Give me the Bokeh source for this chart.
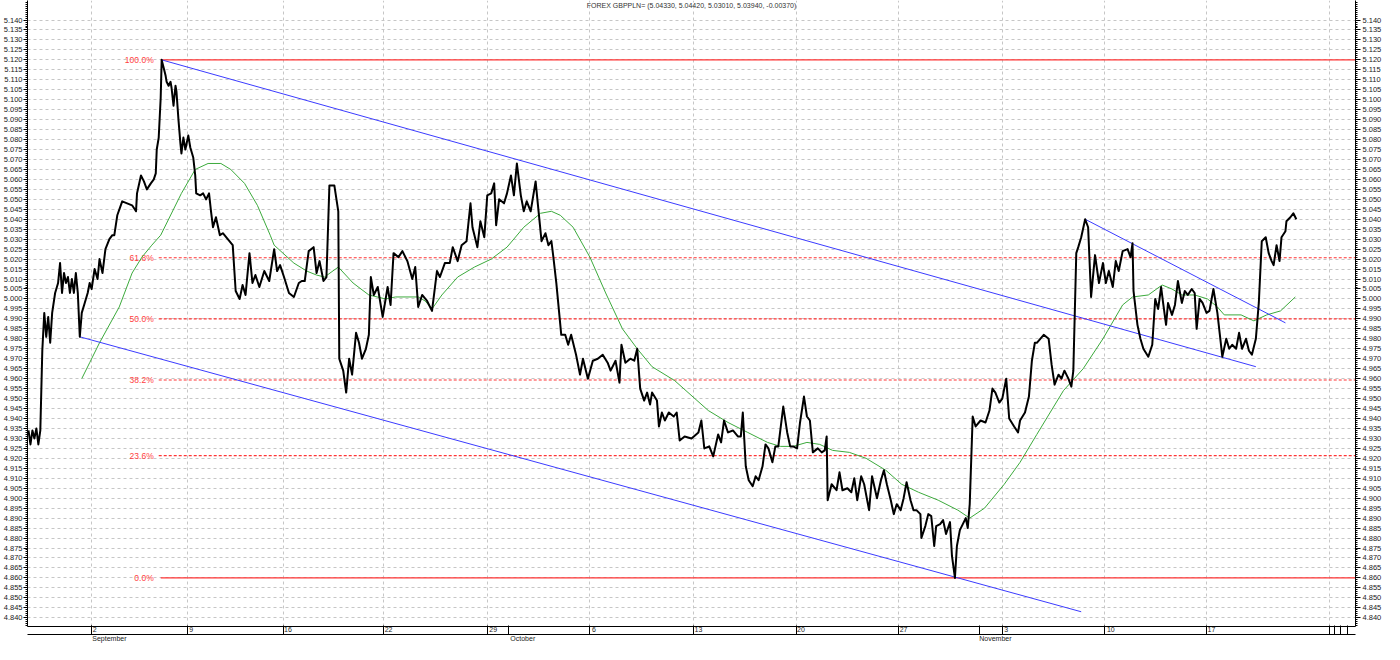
from bokeh.plotting import figure
from bokeh.models import (Range1d, LinearAxis, FixedTicker, Grid,
                          PrintfTickFormatter, Label)
from bokeh.core.properties import value
from bokeh.embed import file_html
from bokeh.resources import INLINE

FONT = "Liberation Sans"
TITLE = "FOREX GBPPLN= (5.04330, 5.04420, 5.03010, 5.03940, -0.00370)"

# ---- data: hourly bar index and GBPPLN close ----
price_bar = [1, 3, 5, 7, 9, 11, 13, 15, 17, 19, 21, 23, 25, 28, 31, 33, 35, 37, 39, 41, 43, 45, 47, 49, 51, 53, 55, 58,
             61, 63, 65, 68, 71, 73, 76, 79, 83, 86, 88, 91, 96, 101, 106, 110, 111, 115, 118, 121, 125, 128, 130, 131,
             133, 135, 136, 138, 140, 141, 143, 145, 146, 148, 150, 151, 153, 155, 156, 158, 160, 163, 165, 168, 170,
             171, 175, 178, 181, 184, 186, 188, 191, 195, 198, 203, 208, 211, 215, 218, 221, 225, 228, 231, 235, 240,
             245, 250, 253, 256, 260, 265, 270, 275, 278, 281, 285, 290, 293, 296, 300, 303, 306, 311, 315, 316, 320,
             323, 326, 329, 333, 336, 339, 343, 346, 348, 351, 355, 360, 365, 368, 371, 376, 380, 385, 390, 393, 396,
             400, 405, 410, 415, 418, 423, 428, 431, 436, 440, 445, 449, 451, 456, 459, 463, 466, 470, 473, 475, 478,
             483, 486, 490, 493, 496, 500, 503, 506, 510, 515, 518, 521, 525, 528, 531, 533, 536, 541, 545, 548, 551,
             556, 560, 563, 568, 573, 578, 583, 588, 591, 596, 600, 602, 606, 611, 615, 618, 621, 625, 628, 631, 633,
             638, 640, 643, 646, 650, 655, 658, 661, 666, 673, 680, 683, 686, 691, 695, 700, 703, 706, 710, 715, 720,
             723, 725, 728, 731, 735, 738, 741, 745, 748, 751, 755, 758, 761, 766, 770, 773, 776, 780, 783, 787, 790,
             793, 796, 801, 805, 808, 810, 811, 815, 820, 823, 826, 831, 835, 838, 841, 845, 848, 853, 856, 861, 865,
             868, 871, 875, 878, 881, 885, 888, 891, 895, 898, 901, 905, 906, 910, 913, 916, 919, 921, 925, 928, 931,
             935, 937, 940, 942, 945, 948, 951, 953, 955, 958, 961, 966, 971, 975, 978, 981, 985, 988, 992, 995, 1000,
             1004, 1006, 1011, 1015, 1018, 1021, 1023, 1030, 1035, 1038, 1041, 1045, 1048, 1051, 1055, 1058, 1060,
             1063, 1065, 1068, 1072, 1075, 1078, 1082, 1086, 1090, 1093, 1096, 1100, 1103, 1106, 1110, 1115, 1118,
             1120, 1121, 1125, 1128, 1131, 1136, 1140, 1143, 1146, 1149, 1151, 1154, 1156, 1160, 1163, 1166, 1170,
             1173, 1176, 1180, 1183, 1185, 1188, 1191, 1195, 1198, 1202, 1206, 1209, 1211, 1215, 1218, 1221, 1225,
             1228, 1231, 1235, 1238, 1241, 1245, 1248, 1251, 1255, 1258, 1261, 1263, 1266, 1269, 1271, 1275, 1276,
             1280, 1283, 1286]
price = [4.934, 4.927, 4.934, 4.930, 4.935, 4.927, 4.934, 4.974, 4.993, 4.981, 4.991, 4.978, 4.993, 5.003, 5.008, 5.018,
         5.003, 5.013, 5.008, 5.011, 5.003, 5.010, 5.003, 5.013, 5.003, 4.981, 4.993, 4.998, 5.003, 5.008, 5.005, 5.015,
         5.010, 5.020, 5.013, 5.025, 5.030, 5.032, 5.032, 5.042, 5.049, 5.048, 5.047, 5.044, 5.053, 5.062, 5.059, 5.055,
         5.058, 5.060, 5.063, 5.075, 5.081, 5.101, 5.120, 5.116, 5.112, 5.109, 5.107, 5.109, 5.106, 5.097, 5.107, 5.104,
         5.090, 5.078, 5.073, 5.081, 5.075, 5.082, 5.076, 5.071, 5.062, 5.053, 5.052, 5.053, 5.050, 5.053, 5.044, 5.036,
         5.041, 5.032, 5.033, 5.030, 5.027, 5.004, 5.000, 5.007, 5.002, 5.023, 5.008, 5.012, 5.006, 5.014, 5.009, 5.025,
         5.014, 5.017, 5.011, 5.003, 5.001, 5.008, 5.009, 5.009, 5.024, 5.026, 5.013, 5.019, 5.009, 5.011, 5.057, 5.057,
         5.044, 4.970, 4.964, 4.953, 4.970, 4.962, 4.983, 4.978, 4.970, 4.975, 4.982, 5.011, 5.002, 5.006, 4.991, 5.006,
         4.997, 5.023, 5.021, 5.024, 5.019, 5.010, 5.016, 4.996, 5.002, 4.999, 4.994, 5.014, 5.011, 5.018, 5.018, 5.026,
         5.019, 5.027, 5.029, 5.048, 5.036, 5.026, 5.039, 5.031, 5.052, 5.053, 5.058, 5.037, 5.050, 5.048, 5.053, 5.062,
         5.052, 5.068, 5.052, 5.044, 5.049, 5.044, 5.059, 5.044, 5.029, 5.033, 5.027, 5.029, 5.021, 5.008, 4.982, 4.982,
         4.977, 4.982, 4.972, 4.962, 4.970, 4.960, 4.969, 4.970, 4.972, 4.968, 4.964, 4.969, 4.958, 4.977, 4.968, 4.970,
         4.969, 4.975, 4.955, 4.949, 4.953, 4.947, 4.953, 4.949, 4.936, 4.943, 4.939, 4.943, 4.941, 4.943, 4.929, 4.931,
         4.930, 4.933, 4.939, 4.925, 4.926, 4.921, 4.932, 4.928, 4.939, 4.933, 4.934, 4.931, 4.931, 4.943, 4.916, 4.909,
         4.906, 4.911, 4.909, 4.916, 4.927, 4.925, 4.918, 4.926, 4.926, 4.946, 4.933, 4.926, 4.926, 4.925, 4.938, 4.951,
         4.941, 4.939, 4.923, 4.925, 4.923, 4.924, 4.931, 4.899, 4.907, 4.904, 4.913, 4.904, 4.905, 4.903, 4.910, 4.899,
         4.911, 4.907, 4.894, 4.911, 4.900, 4.909, 4.914, 4.907, 4.899, 4.892, 4.897, 4.894, 4.900, 4.908, 4.899, 4.894,
         4.894, 4.892, 4.880, 4.886, 4.892, 4.891, 4.876, 4.886, 4.887, 4.889, 4.882, 4.888, 4.871, 4.860, 4.876, 4.884,
         4.887, 4.890, 4.885, 4.897, 4.941, 4.936, 4.939, 4.938, 4.944, 4.955, 4.953, 4.948, 4.950, 4.960, 4.940, 4.936,
         4.933, 4.939, 4.943, 4.951, 4.969, 4.978, 4.978, 4.982, 4.980, 4.967, 4.957, 4.962, 4.960, 4.964, 4.960, 4.956,
         4.964, 5.023, 5.026, 5.031, 5.040, 5.036, 5.001, 5.022, 5.008, 5.018, 5.008, 5.014, 5.006, 5.019, 5.014, 5.024,
         5.025, 5.021, 5.028, 5.004, 4.987, 4.980, 4.975, 4.971, 4.977, 5.000, 4.995, 5.006, 4.998, 4.987, 4.998, 4.992,
         4.997, 5.009, 4.998, 5.004, 5.002, 5.005, 5.003, 4.985, 5.000, 4.998, 4.993, 4.994, 5.005, 4.993, 4.980, 4.971,
         4.980, 4.975, 4.977, 4.975, 4.983, 4.975, 4.980, 4.974, 4.972, 4.980, 4.998, 5.029, 5.031, 5.023, 5.019, 5.017,
         5.027, 5.019, 5.031, 5.034, 5.039, 5.041, 5.043, 5.040]

# moving average (green)
ma_bar = [55, 63, 73, 93, 106, 116, 126, 135, 156, 170, 183, 196, 206, 220, 233, 246, 250, 270, 283, 293, 301, 315,
          330, 346, 363, 373, 396, 403, 410, 420, 436, 453, 470, 486, 503, 520, 531, 540, 553, 570, 586, 603, 618, 633,
          656, 690, 710, 730, 750, 763, 776, 790, 803, 816, 833, 850, 870, 886, 903, 923, 943, 955, 970, 990, 1006,
          1023, 1050, 1070, 1090, 1110, 1120, 1136, 1150, 1160, 1170, 1183, 1196, 1206, 1213, 1230, 1243, 1256, 1270,
          1285]
ma = [4.960, 4.968, 4.978, 4.996, 5.013, 5.021, 5.027, 5.032, 5.053, 5.065, 5.068, 5.068, 5.065, 5.058, 5.047, 5.032,
      5.027, 5.018, 5.014, 5.012, 5.011, 5.016, 5.008, 5.002, 5.000, 5.001, 5.001, 4.999, 4.995, 5.002, 5.011, 5.016,
      5.020, 5.026, 5.036, 5.043, 5.044, 5.042, 5.036, 5.021, 5.003, 4.985, 4.975, 4.966, 4.959, 4.944, 4.938, 4.933,
      4.928, 4.926, 4.926, 4.928, 4.927, 4.924, 4.923, 4.920, 4.914, 4.907, 4.903, 4.899, 4.894, 4.890, 4.895, 4.907,
      4.918, 4.932, 4.954, 4.965, 4.980, 4.997, 5.001, 5.002, 5.007, 5.005, 5.002, 5.002, 5.000, 4.996, 4.992, 4.992,
      4.989, 4.992, 4.994, 5.001]

# trend lines (blue): [start, end]
channel_upper_bar, channel_upper = [136, 1245], [5.120, 4.966]
channel_lower_bar, channel_lower = [53, 1068], [4.981, 4.843]
flag_upper_bar, flag_upper = [1072, 1275], [5.040, 4.988]

# Fibonacci retracement
fib_high, fib_low = 5.120, 4.860
fib_pcts = [100.0, 61.8, 50.0, 38.2, 23.6, 0.0]
fib_start_bar = 135

# date axis
day_sep_bars = [65, 162, 259, 361, 466, 570, 675, 779, 883, 988, 1092, 1195, 1320]
day_labels = ["2", "9", "16", "22", "29", "6", "13", "20", "27", "3", "10", "17", ""]
tail_sep_bars = [1325, 1331, 1338]
month_sep_bars = [65, 488, 965]
month_labels = ["September", "October", "November"]

y_major = [round(4.840 + 0.005 * i, 3) for i in range(61)]
y_minor = [round(4.836 + 0.001 * i, 3) for i in range(314)]

X0, X1 = 0, 1346
Y0, Y1 = 4.8356, 5.1498

p = figure(width=1384, height=644, output_backend="svg", toolbar_location=None,
           x_range=Range1d(X0, X1), y_range=Range1d(Y0, Y1),
           x_axis_type=None, y_axis_type=None,
           min_border_left=26, min_border_right=26, min_border_top=0, min_border_bottom=0)
p.outline_line_color = None
p.background_fill_color = "white"
p.border_fill_color = "white"

GRID = "#c6c6c6"
p.add_layout(Grid(dimension=1, ticker=FixedTicker(ticks=y_major), grid_line_color=GRID,
                  grid_line_dash="3 3", grid_line_width=1))
p.add_layout(Grid(dimension=0, ticker=FixedTicker(ticks=day_sep_bars), grid_line_color=GRID,
                  grid_line_dash="3 3", grid_line_width=1))

for side, tick_out, standoff in (("left", 4, 1), ("right", 5, 2)):
    ax = LinearAxis(ticker=FixedTicker(ticks=y_major, minor_ticks=y_minor),
                    formatter=PrintfTickFormatter(format="%.3f"))
    ax.major_label_text_font = FONT
    ax.major_label_text_font_size = "7.5px"
    ax.major_label_text_color = "#1a1a1a"
    ax.major_tick_out = tick_out
    ax.major_tick_in = 0
    ax.minor_tick_out = 2
    ax.minor_tick_in = 0
    ax.major_label_standoff = standoff
    ax.axis_line_color = "black"
    ax.major_tick_line_color = "black"
    ax.minor_tick_line_color = "black"
    p.add_layout(ax, side)

DAY_ROW = 9  # height in px of the day-number row

# day row: labels only, its axis line is the frame bottom
day_pos = [int(round(s + 1.5 + 2.0 * len(l))) for s, l in zip(day_sep_bars, day_labels)]
ax1 = LinearAxis(ticker=FixedTicker(ticks=day_pos, minor_ticks=[]))
ax1.major_label_overrides = {pos: lbl for pos, lbl in zip(day_pos, day_labels)}
ax1.major_label_text_font = FONT
ax1.major_label_text_font_size = "7px"
ax1.major_label_text_line_height = 0.9
ax1.major_label_text_color = "#222222"
ax1.major_tick_line_color = None
ax1.minor_tick_line_color = None
ax1.major_tick_out = 0
ax1.major_tick_in = 0
ax1.minor_tick_out = 0
ax1.minor_tick_in = 0
ax1.major_label_standoff = 0
ax1.axis_line_color = "black"
p.add_layout(ax1, "below")

# month row: its axis line closes the day row; its minor ticks reach up as box separators
month_pos = [int(round(s + 1.5 + 1.85 * len(l))) for s, l in zip(month_sep_bars, month_labels)]
ax2 = LinearAxis(ticker=FixedTicker(ticks=month_pos,
                                    minor_ticks=day_sep_bars + tail_sep_bars + month_sep_bars))
ax2.major_label_overrides = {pos: lbl for pos, lbl in zip(month_pos, month_labels)}
ax2.major_label_text_font = FONT
ax2.major_label_text_font_size = "7px"
ax2.major_label_text_line_height = 0.9
ax2.major_label_text_color = "#222222"
ax2.major_tick_line_color = None
ax2.major_tick_out = 0
ax2.major_tick_in = 0
ax2.minor_tick_out = 0
ax2.minor_tick_in = DAY_ROW
ax2.minor_tick_line_color = "black"
ax2.major_label_standoff = 0
ax2.axis_line_color = "black"
p.add_layout(ax2, "below")

# Fibonacci levels
RED = "#ff3535"
fib_vals = [fib_low + (fib_high - fib_low) * pc / 100.0 for pc in fib_pcts]
solid = [v for v, pc in zip(fib_vals, fib_pcts) if pc in (0.0, 100.0)]
dashed = [v for v, pc in zip(fib_vals, fib_pcts) if pc not in (0.0, 100.0)]
p.segment(x0=[fib_start_bar] * len(solid), x1=[X1] * len(solid), y0=solid, y1=solid,
          line_color=RED, line_width=1.3)
p.segment(x0=[fib_start_bar - 2] * len(dashed), x1=[X1] * len(dashed), y0=dashed, y1=dashed,
          line_color=RED, line_width=1.2, line_dash="3 2")
p.text(x=[fib_start_bar] * len(fib_vals), y=fib_vals, text=[f"{pc:.1f}%" for pc in fib_pcts],
       x_offset=-7, text_align="right", text_baseline="middle",
       text_font=value(FONT), text_font_size="8.5px", text_color="#ff4040")

# moving average
p.line(ma_bar, ma, line_color="#3caa3c", line_width=1)

# trend lines
BLUE = "#3b3bff"
for xs, ys in ((channel_upper_bar, channel_upper), (channel_lower_bar, channel_lower),
               (flag_upper_bar, flag_upper)):
    p.line(xs, ys, line_color=BLUE, line_width=1)

# price
p.line(price_bar, price, line_color="black", line_width=2, line_join="round")

p.add_layout(Label(x=(X0 + X1) / 2, y=Y1 - 0.0025, text=TITLE, text_align="center",
                   text_baseline="middle", text_font=FONT, text_font_size="7px",
                   text_color="#333333"))

open("out.html", "w").write(file_html(p, INLINE))
